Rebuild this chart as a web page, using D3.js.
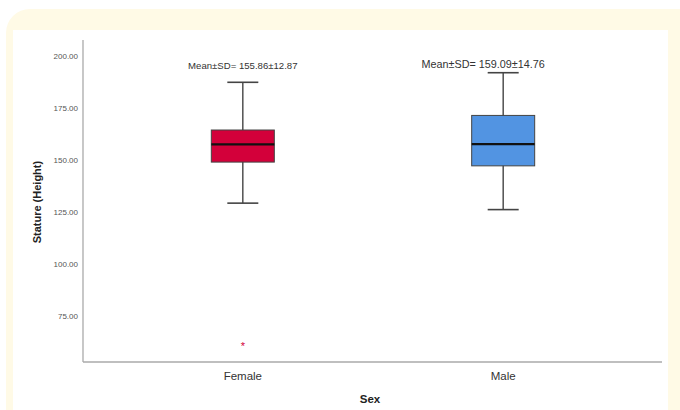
<!DOCTYPE html>
<html>
<head>
<meta charset="utf-8">
<script src="https://cdn.jsdelivr.net/npm/d3@7"></script>
<style>
  body { margin: 0; background: #fff; }
  svg { display: block; font-family: "Liberation Sans", Arial, sans-serif; }
</style>
</head>
<body>
<div id="chart"></div>
<script>
// DATA
var categories = ['Female', 'Male'];
var whiskerLow = [129.5, 126.4];
var q1 = [149.2, 147.4];
var median = [157.7, 157.8];
var q3 = [164.6, 171.6];
var whiskerHigh = [187.5, 192.1];
var outliers = [[62.2], []];
var meanLabels = ['Mean±SD= 155.86±12.87', 'Mean±SD= 159.09±14.76'];
var yTicks = [75, 100, 125, 150, 175, 200];
var colors = ['#d3003a', '#5294e2'];

var width = 680, height = 410;

var svg = d3.select('#chart').append('svg')
  .attr('width', width)
  .attr('height', height);

// FRAME
svg.append('rect')
  .attr('x', 6).attr('y', 9)
  .attr('width', 700).attr('height', 430)
  .attr('rx', 24)
  .attr('fill', '#fffae6');
svg.append('rect')
  .attr('x', 13).attr('y', 30)
  .attr('width', 655).attr('height', 400)
  .attr('fill', '#fff');

// SCALES
var y = d3.scaleLinear().domain([53.4, 207.8]).range([361.7, 40]);
var x = d3.scalePoint().domain(categories).range([84, 662]).padding(0.61);
var boxW = 63, capW = 31;

// AXES (lines only, like the SPSS look)
svg.append('line')
  .attr('x1', 83).attr('x2', 83)
  .attr('y1', 40).attr('y2', 362)
  .attr('stroke', '#aaa').attr('stroke-width', 1.3);
svg.append('line')
  .attr('x1', 83).attr('x2', 662)
  .attr('y1', 362).attr('y2', 362)
  .attr('stroke', '#aaa').attr('stroke-width', 1.3);

svg.selectAll('.ytick')
  .data(yTicks)
  .enter().append('text')
  .attr('class', 'ytick')
  .attr('x', 78)
  .attr('y', function(d) { return y(d); })
  .attr('dy', '0.35em')
  .attr('text-anchor', 'end')
  .attr('font-size', 8)
  .attr('fill', '#555')
  .text(function(d) { return d.toFixed(2); });

svg.selectAll('.xtick')
  .data(categories)
  .enter().append('text')
  .attr('class', 'xtick')
  .attr('x', function(d) { return x(d); })
  .attr('y', 380)
  .attr('text-anchor', 'middle')
  .attr('font-size', 11.5)
  .attr('fill', '#333')
  .text(function(d) { return d; });

svg.append('text')
  .attr('x', 370).attr('y', 403)
  .attr('text-anchor', 'middle')
  .attr('font-size', 11.5)
  .attr('font-weight', 'bold')
  .attr('fill', '#222')
  .text('Sex');

svg.append('text')
  .attr('transform', 'translate(41,' + y(130) + ') rotate(-90)')
  .attr('text-anchor', 'middle')
  .attr('font-size', 11)
  .attr('font-weight', 'bold')
  .attr('fill', '#222')
  .text('Stature (Height)');

// BOXES
var g = svg.selectAll('.box')
  .data(categories)
  .enter().append('g')
  .attr('class', 'box');

g.append('line')
  .attr('x1', function(d) { return x(d); })
  .attr('x2', function(d) { return x(d); })
  .attr('y1', function(d, i) { return y(whiskerHigh[i]); })
  .attr('y2', function(d, i) { return y(whiskerLow[i]); })
  .attr('stroke', '#444').attr('stroke-width', 1.4);

[whiskerHigh, whiskerLow].forEach(function(arr) {
  g.append('line')
    .attr('x1', function(d) { return x(d) - capW / 2; })
    .attr('x2', function(d) { return x(d) + capW / 2; })
    .attr('y1', function(d, i) { return y(arr[i]); })
    .attr('y2', function(d, i) { return y(arr[i]); })
    .attr('stroke', '#444').attr('stroke-width', 1.6);
});

g.append('rect')
  .attr('x', function(d) { return x(d) - boxW / 2; })
  .attr('y', function(d, i) { return y(q3[i]); })
  .attr('width', boxW)
  .attr('height', function(d, i) { return y(q1[i]) - y(q3[i]); })
  .attr('fill', function(d, i) { return colors[i]; })
  .attr('stroke', '#444').attr('stroke-width', 1);

g.append('line')
  .attr('x1', function(d) { return x(d) - boxW / 2; })
  .attr('x2', function(d) { return x(d) + boxW / 2; })
  .attr('y1', function(d, i) { return y(median[i]); })
  .attr('y2', function(d, i) { return y(median[i]); })
  .attr('stroke', '#111').attr('stroke-width', 2.2);

// mean labels sit at the top; the male one is a bit bigger and left of centre
g.append('text')
  .attr('x', function(d, i) { return i == 0 ? x(d) : x(d) - 20; })
  .attr('y', function(d, i) { return i == 0 ? 69 : 68; })
  .attr('text-anchor', 'middle')
  .attr('font-size', function(d, i) { return i == 0 ? 9.6 : 10.8; })
  .attr('fill', '#333')
  .text(function(d, i) { return meanLabels[i]; });

// OUTLIERS
categories.forEach(function(c, i) {
  svg.selectAll('.out' + i)
    .data(outliers[i])
    .enter().append('text')
    .attr('x', x(c))
    .attr('y', function(d) { return y(d); })
    .attr('dy', '0.6em')
    .attr('text-anchor', 'middle')
    .attr('font-size', 11)
    .attr('fill', colors[i])
    .text('*');
});
</script>
</body>
</html>
